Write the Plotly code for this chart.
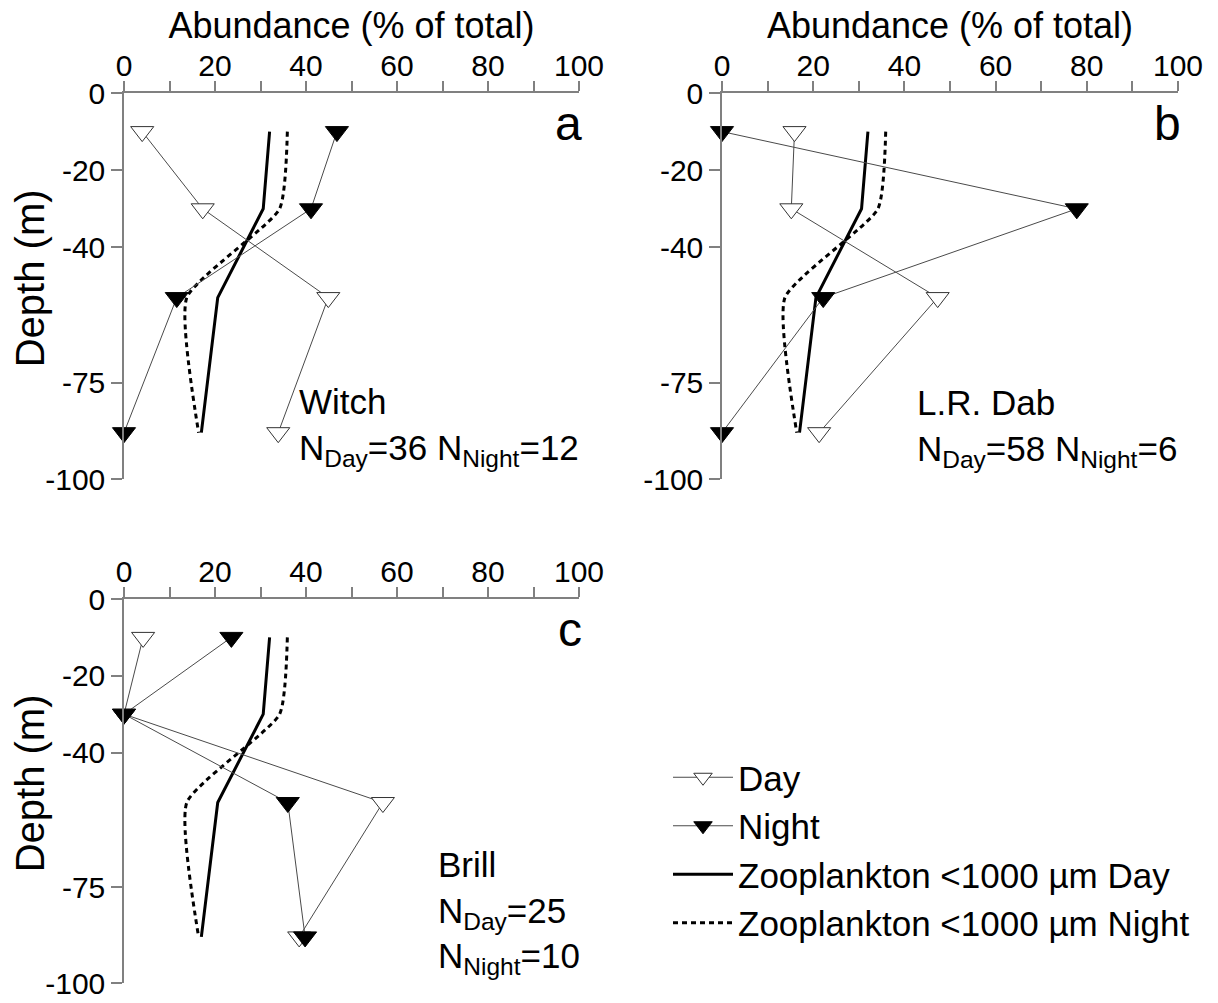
import plotly.graph_objects as go

# Sampling depths (m) of the four strata
depth = [-10, -30, -53, -88]

# Zooplankton <1000 µm vertical distribution (% of total)
zoo_day = [32.0, 30.6, 20.6, 17.0]
zoo_night = [35.9, 34.2, 13.8, 16.4]

# Larval fish abundance (% of total) per species
witch_day = [4.0, 17.3, 44.9, 33.9]
witch_night = [46.8, 41.1, 11.6, 0.0]
dab_day = [15.9, 15.2, 47.3, 21.3]
dab_night = [0.0, 77.8, 22.2, 0.0]
brill_day = [4.2, 0.0, 56.9, 38.5]
brill_night = [23.6, 0.0, 36.0, 39.8]

panel_letters = ["a", "b", "c"]
species_labels = [
    "Witch<br>N<sub>Day</sub>=36 N<sub>Night</sub>=12",
    "L.R. Dab<br>N<sub>Day</sub>=58 N<sub>Night</sub>=6",
    "Brill<br>N<sub>Day</sub>=25<br>N<sub>Night</sub>=10",
]
x_ticks = [0, 20, 40, 60, 80, 100]
y_ticks = [0, -20, -40, -75, -100]
y_tick_text = ["0", "-20", "-40", "-75", "-100"]

W, H = 1218, 1003
FONT = "Liberation Sans, Arial, sans-serif"
AXIS_GREY = "#808080"
LINK_GREY = "#4a4a4a"

# pixel boxes of the three panels: (left, right, top, bottom)
boxes = [(124, 579, 93, 479), (722, 1178, 93, 479), (124, 579, 599, 983)]
# left edge and vertical centre (fraction of panel) of each species label block
label_pos = [(0.381, 0.135), (0.423, 0.131), (0.686, 0.184)]

panels = [
    (witch_day, witch_night),
    (dab_day, dab_night),
    (brill_day, brill_night),
]

fig = go.Figure()

for i, ((day, night), (l, r, t, b)) in enumerate(zip(panels, boxes)):
    xa = "x" if i == 0 else f"x{i + 1}"
    ya = "y" if i == 0 else f"y{i + 1}"
    first = i == 0

    fig.add_trace(go.Scatter(
        x=zoo_day, y=depth, xaxis=xa, yaxis=ya, mode="lines",
        line=dict(color="black", width=3),
        name="Zooplankton <1000 µm Day", legendrank=3, showlegend=first,
    ))
    fig.add_trace(go.Scatter(
        x=zoo_night, y=depth, xaxis=xa, yaxis=ya, mode="lines",
        line=dict(color="black", width=3, dash="5px,4px", shape="spline", smoothing=0.5),
        name="Zooplankton <1000 µm Night", legendrank=4, showlegend=first,
    ))
    fig.add_trace(go.Scatter(
        x=day, y=depth, xaxis=xa, yaxis=ya, mode="lines+markers",
        line=dict(color=LINK_GREY, width=1),
        marker=dict(symbol="triangle-down", size=20, color="white",
                    line=dict(color="#333333", width=1)),
        cliponaxis=False,
        name="Day", legendrank=1, showlegend=first,
    ))
    fig.add_trace(go.Scatter(
        x=night, y=depth, xaxis=xa, yaxis=ya, mode="lines+markers",
        line=dict(color=LINK_GREY, width=1),
        marker=dict(symbol="triangle-down", size=20, color="black",
                    line=dict(color="black", width=1)),
        cliponaxis=False,
        name="Night", legendrank=2, showlegend=first,
    ))

    xaxis = dict(
        domain=[l / W, r / W], anchor=ya, side="top", range=[0, 100],
        automargin=False,
        tickvals=x_ticks, ticks="outside", ticklen=10, tickwidth=1.5,
        ticklabelstandoff=-7,
        tickcolor=AXIS_GREY, showline=True, linecolor=AXIS_GREY, linewidth=1.5,
        showgrid=False, zeroline=False,
        minor=dict(dtick=10, tick0=0, ticks="outside", ticklen=10,
                   tickwidth=1.5, tickcolor=AXIS_GREY, showgrid=False),
        tickfont=dict(family=FONT, size=30, color="black"),
    )
    if i < 2:
        xaxis["title"] = dict(text="Abundance (% of total)", standoff=0,
                              font=dict(family=FONT, size=36, color="black"))
    yaxis = dict(
        domain=[1 - b / H, 1 - t / H], anchor=xa, range=[-100, 0],
        automargin=False,
        tickvals=y_ticks, ticktext=y_tick_text, ticks="outside", ticklen=11,
        tickwidth=1.5,
        tickcolor=AXIS_GREY, showline=True, linecolor=AXIS_GREY, linewidth=1.5,
        showgrid=False, zeroline=False,
        tickfont=dict(family=FONT, size=30, color="black"),
    )

    fig.layout["xaxis" if i == 0 else f"xaxis{i + 1}"] = xaxis
    fig.layout["yaxis" if i == 0 else f"yaxis{i + 1}"] = yaxis

    # depth axis title for the left-hand column of panels
    if i != 1:
        fig.add_annotation(
            text="Depth (m)", textangle=-90, xref="paper", yref=f"{ya} domain",
            x=30 / W, y=0.52, xanchor="center", yanchor="middle", showarrow=False,
            font=dict(family=FONT, size=40, color="black"),
        )

    fig.add_annotation(
        text=panel_letters[i], xref=f"{xa} domain", yref=f"{ya} domain",
        x=1.012, y=0.92, xanchor="right", yanchor="middle", showarrow=False,
        font=dict(family=FONT, size=48, color="black"),
    )
    lx, ly = label_pos[i]
    fig.add_annotation(
        text=species_labels[i], xref=f"{xa} domain", yref=f"{ya} domain",
        x=lx, y=ly, xanchor="left", yanchor="middle", align="left",
        showarrow=False,
        font=dict(family=FONT, size=35, color="black"),
    )

fig.update_layout(
    width=W, height=H,
    margin=dict(l=0, r=0, t=0, b=0),
    paper_bgcolor="white", plot_bgcolor="white",
    legend=dict(
        x=668 / W, y=1 - 748 / H, xanchor="left", yanchor="top",
        font=dict(family=FONT, size=35, color="black"),
        bgcolor="rgba(0,0,0,0)", itemwidth=60, tracegroupgap=0,
    ),
)

fig.write_html("out.html")
